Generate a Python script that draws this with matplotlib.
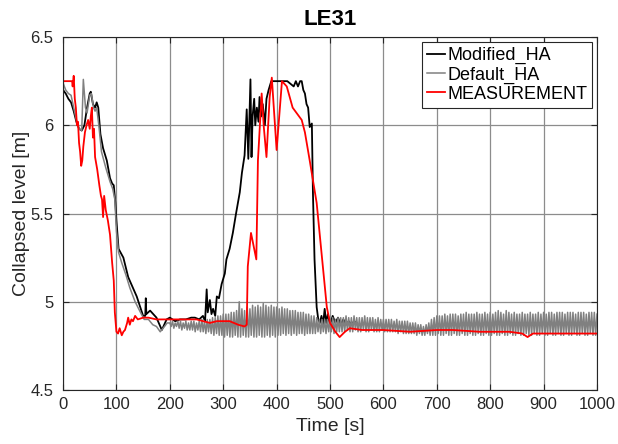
import matplotlib
matplotlib.use('Agg')
import matplotlib.pyplot as plt
import numpy as np

plt.rcParams['font.family'] = ['Liberation Sans', 'DejaVu Sans']

# Modified_HA (black), ends around 550 s
mod_t = [0, 5, 10, 15, 20, 25, 30, 35, 40, 45, 50, 52, 56, 60, 63, 66, 70, 75, 82, 88,
         92, 95, 98, 100, 104, 113, 122, 138, 150, 154, 155, 156, 163, 175, 185, 194, 200, 210, 219, 230,
         240, 247, 255, 262, 266, 269, 271, 275, 278, 281, 285, 288, 292, 297, 303, 306, 312, 318, 324, 331,
         335, 340, 344, 347, 351, 353, 355, 358, 360, 363, 366, 368, 371, 374, 378, 381, 385, 390, 395, 420,
         432, 436, 440, 444, 447, 450, 453, 456, 459, 462, 466, 468, 471, 475, 478, 481, 484, 487, 490, 493,
         496, 500, 505, 510, 515, 520, 525, 530, 535, 540, 545, 550]
mod_v = [6.2, 6.18, 6.15, 6.13, 6.08, 6.02, 5.98, 5.97, 6.0, 6.1, 6.18, 6.19, 6.12, 6.1, 6.13, 6.1, 5.95, 5.87, 5.8, 5.7,
         5.67, 5.66, 5.56, 5.46, 5.3, 5.25, 5.14, 5.03, 4.92, 4.92, 5.02, 4.93, 4.95, 4.91, 4.84, 4.9, 4.91, 4.89, 4.9, 4.9,
         4.91, 4.91, 4.9, 4.92, 4.89, 5.07, 4.94, 5.01, 4.93, 4.96, 4.92, 5.03, 5.02, 5.1, 5.16, 5.24, 5.3, 5.39, 5.5, 5.62,
         5.73, 5.83, 6.09, 5.81, 6.26, 5.82, 6.05, 6.15, 6.0, 6.1, 6.02, 6.16, 6.05, 6.12, 6.0, 6.15, 6.2, 6.25, 6.25, 6.25,
         6.22, 6.25, 6.22, 6.25, 6.25, 6.2, 6.18, 6.12, 6.1, 5.99, 6.01, 5.62, 5.24, 4.97, 4.9, 4.88, 4.92, 4.87, 4.96, 4.88,
         4.93, 4.87, 4.92, 4.88, 4.91, 4.87, 4.9, 4.87, 4.89, 4.87, 4.89, 4.88]

# Default_HA (gray), smooth part up to 195 s
def_t_early = [0, 5, 10, 15, 20, 25, 30, 35, 38, 42, 45, 50, 53, 57, 60, 63, 67, 72, 80, 88,
               93, 97, 100, 104, 110, 118, 125, 135, 145, 152, 160, 168, 175, 182, 190, 195]
def_v_early = [6.24, 6.2, 6.18, 6.17, 6.1, 6.03, 5.98, 5.97, 6.26, 6.1, 6.07, 6.17, 6.18, 6.1, 6.08, 6.1, 6.0, 5.85, 5.76, 5.68,
               5.64, 5.58, 5.4, 5.28, 5.22, 5.15, 5.08, 5.0, 4.94, 4.9, 4.9, 4.87, 4.86, 4.83, 4.86, 4.88]
# Default_HA oscillating part, one value every 2.5 s from 200 s to 1000 s
def_v_osc = [
    # 200-280
    4.88, 4.86, 4.89, 4.85, 4.88, 4.86, 4.89, 4.85, 4.89, 4.84, 4.88, 4.85, 4.89, 4.84, 4.88, 4.84,
    4.89, 4.84, 4.89, 4.83, 4.88, 4.84, 4.89, 4.83, 4.9, 4.83, 4.89, 4.82, 4.9, 4.83, 4.9, 4.82,
    4.91,
    # 282.5-340
    4.81, 4.91, 4.82, 4.92, 4.81, 4.92, 4.81, 4.93, 4.8, 4.93, 4.81, 4.93,
    4.8, 4.94, 4.8, 4.94, 4.81, 4.95, 4.8, 5.0, 4.8, 4.96, 4.81, 4.95,
    # 342.5-400
    4.8, 4.97, 4.8, 4.96, 4.81, 4.98, 4.8, 4.97, 4.8, 4.98, 4.81, 4.97,
    4.8, 4.99, 4.8, 4.98, 4.81, 4.97, 4.8, 4.98, 4.81, 4.97, 4.8, 4.97,
    # 402.5-470
    4.81, 4.96, 4.81, 4.97, 4.82, 4.96, 4.81, 4.96, 4.82, 4.95, 4.81, 4.95, 4.82, 4.95,
    4.81, 4.94, 4.82, 4.94, 4.82, 4.94, 4.81, 4.93, 4.82, 4.93, 4.82, 4.92, 4.82, 4.92,
    # 472.5-520
    4.82, 4.91, 4.83, 4.9, 4.82, 4.9, 4.83, 4.9, 4.82, 4.9,
    4.83, 4.9, 4.83, 4.91, 4.82, 4.9, 4.83, 4.91, 4.83, 4.91,
    # 522.5-650
    4.83, 4.91, 4.83, 4.92, 4.84, 4.91, 4.83, 4.91, 4.83, 4.92, 4.84, 4.91, 4.83, 4.91,
    4.83, 4.91, 4.84, 4.92, 4.83, 4.91, 4.83, 4.91, 4.84, 4.91, 4.83, 4.9, 4.83, 4.91,
    4.83, 4.9, 4.84, 4.9, 4.83, 4.9, 4.83, 4.9, 4.83, 4.9, 4.83, 4.89, 4.83, 4.9,
    4.82, 4.89, 4.83, 4.89, 4.82, 4.89, 4.82, 4.89, 4.82, 4.88,
    # 652.5-690
    4.82, 4.88, 4.82, 4.88, 4.81, 4.87, 4.82, 4.87, 4.81, 4.86, 4.81, 4.87, 4.82, 4.88, 4.81, 4.9,
    # 692.5-1000
    4.81, 4.91, 4.81, 4.92, 4.82, 4.92, 4.81, 4.92, 4.81, 4.93, 4.82, 4.92, 4.81, 4.93, 4.81, 4.93,
    4.82, 4.93, 4.81, 4.92, 4.81, 4.93, 4.82, 4.93, 4.81, 4.94, 4.81, 4.93, 4.82, 4.93, 4.81, 4.93,
    4.81, 4.94, 4.82, 4.93, 4.81, 4.93, 4.81, 4.94, 4.82, 4.93, 4.81, 4.94, 4.81, 4.93, 4.82, 4.94,
    4.81, 4.95, 4.81, 4.94, 4.82, 4.93, 4.81, 4.95, 4.81, 4.94, 4.82, 4.93, 4.81, 4.94, 4.81, 4.93,
    4.82, 4.93, 4.81, 4.94, 4.81, 4.93, 4.82, 4.93, 4.81, 4.94, 4.81, 4.93, 4.82, 4.93, 4.81, 4.94,
    4.81, 4.93, 4.82, 4.94, 4.81, 4.93, 4.81, 4.94, 4.82, 4.94, 4.81, 4.93, 4.81, 4.94, 4.82, 4.94,
    4.81, 4.94, 4.81, 4.93, 4.82, 4.94, 4.81, 4.94, 4.81, 4.94, 4.82, 4.93, 4.81, 4.94, 4.81, 4.94,
    4.82, 4.94, 4.81, 4.93, 4.81, 4.94, 4.82, 4.94, 4.81, 4.94, 4.81, 4.93]
def_t_osc = 200 + 2.5 * np.arange(len(def_v_osc))

# MEASUREMENT (red)
meas_t = [0, 17, 18, 20, 22, 24, 26, 28, 30, 32, 34, 36, 38, 41, 44, 47, 50, 52, 54, 56,
          58, 60, 64, 68, 71, 73, 75, 77, 80, 84, 88, 92, 95, 97, 100, 103, 106, 110, 113, 116,
          120, 122, 125, 128, 131, 135, 140, 150, 160, 175, 200, 230, 250, 275, 288, 312, 328, 340, 344, 346,
          352, 362, 365, 372, 376, 381, 387, 391, 400, 410, 419, 430, 447, 453, 462, 475, 484, 494, 500, 510,
          518, 528, 537, 560, 600, 650, 700, 730, 780, 836, 860, 870, 880, 900, 950, 980, 1000]
meas_v = [6.25, 6.25, 6.22, 6.28, 6.15, 6.1, 6.0, 6.02, 5.9, 5.85, 5.77, 5.8, 5.88, 5.96, 6.0, 6.03, 5.98, 6.05, 6.1, 5.93,
          5.98, 5.82, 5.75, 5.66, 5.6, 5.58, 5.48, 5.6, 5.52, 5.46, 5.38, 5.22, 5.12, 4.94, 4.83, 4.82, 4.85, 4.81, 4.83, 4.84,
          4.88, 4.91, 4.87, 4.9, 4.89, 4.92, 4.9, 4.91, 4.91, 4.9, 4.9, 4.9, 4.9, 4.88, 4.89, 4.89, 4.87, 4.86, 4.87, 5.2,
          5.39, 5.24, 5.8, 6.18, 5.99, 5.82, 6.16, 6.27, 5.86, 6.25, 6.22, 6.1, 6.03, 5.96, 5.8, 5.56, 5.28, 4.97, 4.88, 4.83,
          4.8, 4.83, 4.85, 4.84, 4.84, 4.83, 4.84, 4.84, 4.83, 4.83, 4.82, 4.8, 4.82, 4.82, 4.82, 4.82, 4.82]

fig = plt.figure(figsize=(6.18, 4.44), dpi=100)
ax = fig.add_axes([0.102, 0.1216, 0.864, 0.795])

ax.plot(mod_t, mod_v, color='black', lw=1.3, label='Modified_HA')
ax.plot(np.concatenate([def_t_early, def_t_osc]), np.concatenate([def_v_early, def_v_osc]),
        color='#808080', lw=1.1, label='Default_HA')
ax.plot(meas_t, meas_v, color='#ff0000', lw=1.3, label='MEASUREMENT')

ax.set_xlim(0, 1000)
ax.set_ylim(4.5, 6.5)
ax.set_xticks(np.arange(0, 1001, 100))
ax.set_yticks([4.5, 5, 5.5, 6, 6.5])
ax.set_yticklabels(['4.5', '5', '5.5', '6', '6.5'])
ax.grid(True, color='#8c8c8c', lw=0.9)
ax.tick_params(direction='in', top=True, right=True, labelsize=12, colors='#262626', length=4)
ax.tick_params(axis='y', pad=7)
ax.tick_params(axis='x', pad=5)
for s in ax.spines.values():
    s.set_color('#262626')
    s.set_linewidth(0.8)

ax.set_xlabel('Time [s]', fontsize=14, color='#262626', labelpad=4)
ax.set_ylabel('Collapsed level [m]', fontsize=14, color='#262626', labelpad=0)
ax.set_title('LE31', fontsize=16, fontweight='bold', pad=9)

leg = ax.legend(loc='upper right', fontsize=13, fancybox=False, framealpha=1, edgecolor='#262626',
                handlelength=1.0, handletextpad=0.1, labelspacing=0.12, borderpad=0.3,
                borderaxespad=0.25)
leg.get_frame().set_linewidth(0.8)

fig.savefig('out.png', dpi=100)
